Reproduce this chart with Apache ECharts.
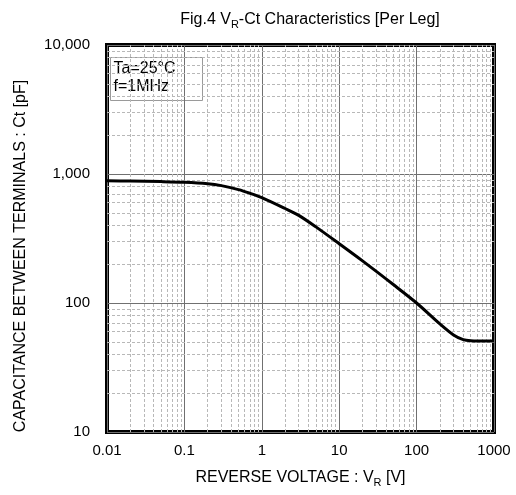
<!DOCTYPE html>
<html>
<head>
<meta charset="utf-8">
<script src="https://cdn.jsdelivr.net/npm/echarts@6/dist/echarts.min.js"></script>
<style>
  html, body { margin: 0; padding: 0; background: #fff; }
  #chart { width: 516px; height: 495px; }
</style>
</head>
<body>
<div id="chart"></div>
<script>
var chartDom = document.getElementById('chart');
var myChart = echarts.init(chartDom);
var option;

// reverse voltage [V] and capacitance [pF]
var voltage = [0.01, 0.02, 0.05, 0.1, 0.2, 0.3, 0.5, 0.7, 1, 2, 3, 5, 10, 20, 50, 100, 200, 300, 400, 500, 700, 1000];
var capacitance = [885, 881, 873, 863, 841, 813, 757, 710, 656, 540, 478, 389, 288, 212, 139, 100, 68.8, 56.5, 52.0, 51.0, 50.8, 50.7];

var xDecades = [0.01, 0.1, 1, 10, 100];
var yDecades = [10, 100, 1000];
var xLabels = { '0.01': '0.01', '0.1': '0.1', '1': '1', '10': '10', '100': '100', '1000': '1000' };
var yLabels = { '10': '10', '100': '100', '1000': '1,000', '10000': '10,000' };

var font = 'Liberation Sans, Arial, sans-serif';

// minor grid lines at 2..9 of each decade
var minorLines = [];
xDecades.forEach(function (d) {
  for (var k = 2; k <= 9; k++) minorLines.push({ xAxis: +(d * k).toPrecision(3) });
});
yDecades.forEach(function (d) {
  for (var k = 2; k <= 9; k++) minorLines.push({ yAxis: +(d * k).toPrecision(3) });
});

function fmt(map) {
  return function (v) {
    var key = String(+v.toPrecision(6));
    return map[key] !== undefined ? map[key] : '';
  };
}

option = {
  animation: false,
  title: {
    text: 'Fig.4 V{s|R}-Ct Characteristics [Per Leg]',
    left: 305,
    textAlign: 'center',
    top: 5,
    textStyle: {
      fontFamily: font,
      fontSize: 16,
      fontWeight: 'normal',
      color: '#000',
      rich: {
        s: { fontFamily: font, fontSize: 11, color: '#000', padding: [9, 0, 0, 0] }
      }
    }
  },
  grid: {
    left: 107,
    top: 45,
    width: 387,
    height: 387,
    show: true,
    borderColor: '#000',
    borderWidth: 4,
    backgroundColor: 'transparent'
  },
  xAxis: {
    type: 'log',
    logBase: 10,
    min: 0.01,
    max: 1000,
    name: '{a|REVERSE VOLTAGE : V}{s|R}{a| [V]}',
    nameLocation: 'middle',
    nameGap: 36,
    nameTextStyle: {
      rich: {
        a: { fontFamily: font, fontSize: 16, color: '#000' },
        s: { fontFamily: font, fontSize: 11, color: '#000', padding: [9, 0, 0, 0] }
      }
    },
    axisLine: { show: false },
    axisTick: { show: false },
    axisLabel: {
      margin: 11,
      fontFamily: font,
      fontSize: 15,
      color: '#000',
      formatter: fmt(xLabels)
    },
    splitLine: { show: true, lineStyle: { color: '#707070', width: 1 } }
  },
  yAxis: {
    type: 'log',
    logBase: 10,
    min: 10,
    max: 10000,
    axisLine: { show: false },
    axisTick: { show: false },
    axisLabel: {
      margin: 17,
      fontFamily: font,
      fontSize: 15,
      color: '#000',
      formatter: fmt(yLabels)
    },
    splitLine: { show: true, lineStyle: { color: '#707070', width: 1 } }
  },
  graphic: [
    {
      type: 'text',
      x: 21,
      y: 256,
      rotation: Math.PI / 2,
      style: {
        text: 'CAPACITANCE BETWEEN TERMINALS : Ct [pF]',
        fontFamily: font,
        fontSize: 16,
        fill: '#000',
        align: 'center',
        verticalAlign: 'middle'
      }
    },
    {
      type: 'group',
      left: 110,
      top: 57,
      z: 100,
      children: [
        {
          type: 'rect',
          shape: { x: 0, y: 0, width: 92, height: 43 },
          style: { fill: '#fff', stroke: '#9a9a9a', lineWidth: 1 }
        },
        {
          type: 'text',
          x: 3,
          y: 2,
          style: {
            text: 'Ta=25\u00b0C\nf=1MHz',
            fontFamily: font,
            fontSize: 16,
            lineHeight: 18,
            fill: '#000'
          }
        }
      ]
    }
  ],
  series: [
    {
      type: 'line',
      data: voltage.map(function (v, i) { return [v, capacitance[i]]; }),
      showSymbol: false,
      smooth: 0.3,
      lineStyle: { color: '#000', width: 3 },
      z: 10,
      markLine: {
        silent: true,
        symbol: 'none',
        label: { show: false },
        lineStyle: { color: '#b8b8b8', type: [3, 2], width: 1 },
        data: minorLines,
        z: 1
      }
    }
  ]
};

option && myChart.setOption(option);
</script>
</body>
</html>
